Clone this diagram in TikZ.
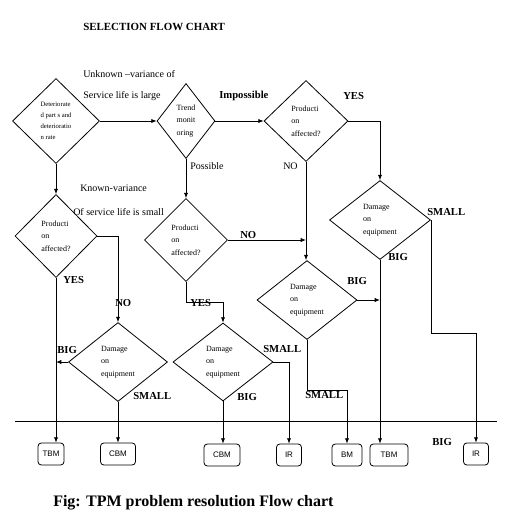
\documentclass[tikz,border=0pt]{standalone}
\usepackage{fontspec}
\setmainfont{Liberation Serif}
\newfontfamily\boxfont{Liberation Sans}
\usetikzlibrary{shapes.geometric,arrows.meta}
\begin{document}
\begin{tikzpicture}[x=0.75pt,y=-0.75pt,
  dia/.style={shape=diamond, draw, line width=0.6pt, inner sep=0pt, align=left, font=\fontsize{6}{9.4}\selectfont},
  lab/.style={anchor=west, inner sep=0pt, font=\fontsize{7.5}{9}\selectfont},
  blab/.style={anchor=west, inner sep=0pt, font=\bfseries\fontsize{8}{9}\selectfont},
  bx/.style={draw, line width=0.6pt, rounded corners=2.5pt, minimum height=16.5pt, inner sep=0pt, font=\boxfont\fontsize{6}{7}\selectfont},
  arr/.style={line width=0.6pt, -{Latex[length=4pt,width=3.2pt]}},
  ln/.style={line width=0.6pt}]
\useasboundingbox (0,0) rectangle (510,522);

% diamonds
\node[dia, minimum width=65.25pt, minimum height=63.75pt, font=\fontsize{5}{8.2}\selectfont] (D1) at (56,121) {Deteriorate\\d part s and\\deterioratio\\n rate};
\node[dia, minimum width=43.5pt, minimum height=56.25pt] (D2) at (186,121) {Trend\\monit\\oring};
\node[dia, minimum width=63pt, minimum height=60.75pt] (D3) at (306,121) {Producti\\on\\affected?};
\node[dia, minimum width=75.75pt, minimum height=59.25pt] (D4) at (380,220) {Damage\\on\\equipment};
\node[dia, minimum width=75pt, minimum height=59.25pt] (D5) at (307,300) {Damage\\on\\equipment};
\node[dia, minimum width=61.5pt, minimum height=62.25pt] (D6) at (56,236) {Producti\\on\\affected?};
\node[dia, minimum width=62.25pt, minimum height=62.25pt] (D7) at (186,240) {Producti\\on\\affected?};
\node[dia, minimum width=74.25pt, minimum height=59.25pt] (D8) at (118,362) {Damage\\on\\equipment};
\node[dia, minimum width=75pt, minimum height=58.5pt] (D9) at (223,362) {Damage\\on\\equipment};

% boxes
\node[bx, minimum width=19.5pt] (TBMa) at (51,454) {TBM};
\node[bx, minimum width=26.25pt] (CBMa) at (118,454) {CBM};
\node[bx, minimum width=27pt] (CBMb) at (222,455) {CBM};
\node[bx, minimum width=18.75pt] (IRa) at (289,455) {IR};
\node[bx, minimum width=22.5pt] (BM) at (347,455) {BM};
\node[bx, minimum width=28.5pt] (TBMb) at (389,455) {TBM};
\node[bx, minimum width=18.75pt] (IRb) at (476,454) {IR};

% connectors
\draw[arr] (D1.east) -- (D2.west);
\draw[arr] (D2.east) -- (D3.west);
\draw[arr] (D3.east) -| (D4.north);
\draw[arr] (D3.south) -- (D3.south |- D5.north);
\draw[arr] (D7.east) -- (D3.south |- D7.east);
\draw[arr] (D4.east) -- ++(0,113) -| (IRb.north);
\draw[arr] (D4.south) -- (D4.south |- TBMb.north);
\draw[arr] (D5.east) -- (D4.south |- D5.east);
\draw[arr] (D5.south) -- ++(0,50) -| (BM.north);
\draw[arr] (D1.south) -- (D6.north);
\draw[arr] (D6.east) -| (D8.north);
\draw[arr] (D6.south) -- (D6.south |- TBMa.north);
\draw[arr] (D8.west) -- (D6.south |- D8.west);
\draw[arr] (D8.south) -- (CBMa.north);
\draw[arr] (D2.south) -- (D7.north);
\draw[arr] (D7.south) -- ++(0,20) -| (D9.north);
\draw[arr] (D9.east) -| (IRa.north);
\draw[arr] (D9.south) -- (D9.south |- CBMb.north);

% divider
\coordinate (hl) at (15,421);
\coordinate (hr) at (497,421);
\draw[ln] (hl) -- (hr);

% labels
\node[blab, font=\bfseries\fontsize{8.2}{9}\selectfont] (title) at (83,27) {SELECTION FLOW CHART};
\node[lab] (u1) at (83,74) {Unknown –variance of};
\node[lab] (u2) at (83,96) {Service life is large};
\node[blab] (imp) at (219,96) {Impossible};
\node[blab] (y1) at (343,96) {YES};
\node[lab] (n1) at (283,166) {NO};
\node[lab] (pos) at (190,166) {Possible};
\node[lab] (k1) at (80,188) {Known-variance};
\node[lab] (k2) at (73,212) {Of service life is small};
\node[blab] (n2) at (240,235) {NO};
\node[blab] (y2) at (63,280) {YES};
\node[blab] (n3) at (115,303) {NO};
\node[blab] (y3) at (190,303) {YES};
\node[blab] (b1) at (57,350) {BIG};
\node[blab] (s1) at (133,396) {SMALL};
\node[blab] (s2) at (263,349) {SMALL};
\node[blab] (b2) at (237,397) {BIG};
\node[blab] (s3) at (427,212) {SMALL};
\node[blab] (b3) at (388,257) {BIG};
\node[blab] (b4) at (347,281) {BIG};
\node[blab] (s4) at (305,395) {SMALL};
\node[blab] (b5) at (432,442) {BIG};
\node[anchor=west, inner sep=0pt, font=\bfseries\fontsize{12}{14}\selectfont] (cap) at (53,503) {Fig: TPM problem resolution Flow chart};
\end{tikzpicture}
\end{document}
